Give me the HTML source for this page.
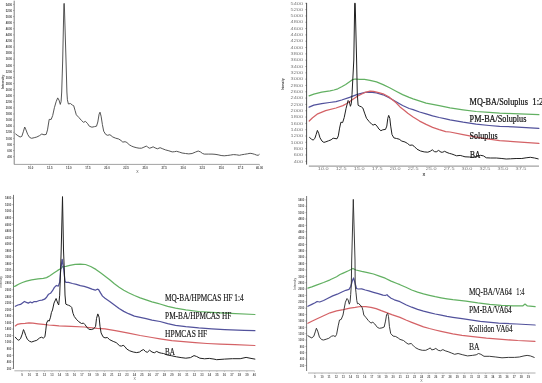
<!DOCTYPE html>
<html><head><meta charset="utf-8"><style>
html,body{margin:0;padding:0;background:#fff;}
body{width:542px;height:383px;overflow:hidden;}
svg{display:block;filter:blur(0.3px);}
.t{font-family:"Liberation Sans",sans-serif;}
.s{font-family:"Liberation Serif",serif;fill:#111;stroke:#111;stroke-width:0.22px;}
</style></head><body>
<svg width="542" height="383" viewBox="0 0 542 383">
<rect width="542" height="383" fill="#fff"/>
<line x1="14.2" y1="0.7" x2="14.2" y2="164.4" stroke="#6a6a6a" stroke-width="0.85"/>
<line x1="13.0" y1="4.40" x2="14.2" y2="4.40" stroke="#6a6a6a" stroke-width="0.5"/>
<text transform="translate(12.00 5.60) scale(0.8 1)" text-anchor="end" class="t" style="fill:#4a4a4a;font-weight:bold;font-size:3.5px">5400</text>
<line x1="13.0" y1="10.49" x2="14.2" y2="10.49" stroke="#6a6a6a" stroke-width="0.5"/>
<text transform="translate(12.00 11.69) scale(0.8 1)" text-anchor="end" class="t" style="fill:#4a4a4a;font-weight:bold;font-size:3.5px">5200</text>
<line x1="13.0" y1="16.58" x2="14.2" y2="16.58" stroke="#6a6a6a" stroke-width="0.5"/>
<text transform="translate(12.00 17.78) scale(0.8 1)" text-anchor="end" class="t" style="fill:#4a4a4a;font-weight:bold;font-size:3.5px">5000</text>
<line x1="13.0" y1="22.67" x2="14.2" y2="22.67" stroke="#6a6a6a" stroke-width="0.5"/>
<text transform="translate(12.00 23.87) scale(0.8 1)" text-anchor="end" class="t" style="fill:#4a4a4a;font-weight:bold;font-size:3.5px">4800</text>
<line x1="13.0" y1="28.76" x2="14.2" y2="28.76" stroke="#6a6a6a" stroke-width="0.5"/>
<text transform="translate(12.00 29.96) scale(0.8 1)" text-anchor="end" class="t" style="fill:#4a4a4a;font-weight:bold;font-size:3.5px">4600</text>
<line x1="13.0" y1="34.85" x2="14.2" y2="34.85" stroke="#6a6a6a" stroke-width="0.5"/>
<text transform="translate(12.00 36.05) scale(0.8 1)" text-anchor="end" class="t" style="fill:#4a4a4a;font-weight:bold;font-size:3.5px">4400</text>
<line x1="13.0" y1="40.94" x2="14.2" y2="40.94" stroke="#6a6a6a" stroke-width="0.5"/>
<text transform="translate(12.00 42.14) scale(0.8 1)" text-anchor="end" class="t" style="fill:#4a4a4a;font-weight:bold;font-size:3.5px">4200</text>
<line x1="13.0" y1="47.03" x2="14.2" y2="47.03" stroke="#6a6a6a" stroke-width="0.5"/>
<text transform="translate(12.00 48.23) scale(0.8 1)" text-anchor="end" class="t" style="fill:#4a4a4a;font-weight:bold;font-size:3.5px">4000</text>
<line x1="13.0" y1="53.12" x2="14.2" y2="53.12" stroke="#6a6a6a" stroke-width="0.5"/>
<text transform="translate(12.00 54.32) scale(0.8 1)" text-anchor="end" class="t" style="fill:#4a4a4a;font-weight:bold;font-size:3.5px">3800</text>
<line x1="13.0" y1="59.21" x2="14.2" y2="59.21" stroke="#6a6a6a" stroke-width="0.5"/>
<text transform="translate(12.00 60.41) scale(0.8 1)" text-anchor="end" class="t" style="fill:#4a4a4a;font-weight:bold;font-size:3.5px">3600</text>
<line x1="13.0" y1="65.30" x2="14.2" y2="65.30" stroke="#6a6a6a" stroke-width="0.5"/>
<text transform="translate(12.00 66.50) scale(0.8 1)" text-anchor="end" class="t" style="fill:#4a4a4a;font-weight:bold;font-size:3.5px">3400</text>
<line x1="13.0" y1="71.39" x2="14.2" y2="71.39" stroke="#6a6a6a" stroke-width="0.5"/>
<text transform="translate(12.00 72.59) scale(0.8 1)" text-anchor="end" class="t" style="fill:#4a4a4a;font-weight:bold;font-size:3.5px">3200</text>
<line x1="13.0" y1="77.48" x2="14.2" y2="77.48" stroke="#6a6a6a" stroke-width="0.5"/>
<text transform="translate(12.00 78.68) scale(0.8 1)" text-anchor="end" class="t" style="fill:#4a4a4a;font-weight:bold;font-size:3.5px">3000</text>
<line x1="13.0" y1="83.57" x2="14.2" y2="83.57" stroke="#6a6a6a" stroke-width="0.5"/>
<text transform="translate(12.00 84.77) scale(0.8 1)" text-anchor="end" class="t" style="fill:#4a4a4a;font-weight:bold;font-size:3.5px">2800</text>
<line x1="13.0" y1="89.66" x2="14.2" y2="89.66" stroke="#6a6a6a" stroke-width="0.5"/>
<text transform="translate(12.00 90.86) scale(0.8 1)" text-anchor="end" class="t" style="fill:#4a4a4a;font-weight:bold;font-size:3.5px">2600</text>
<line x1="13.0" y1="95.75" x2="14.2" y2="95.75" stroke="#6a6a6a" stroke-width="0.5"/>
<text transform="translate(12.00 96.95) scale(0.8 1)" text-anchor="end" class="t" style="fill:#4a4a4a;font-weight:bold;font-size:3.5px">2400</text>
<line x1="13.0" y1="101.84" x2="14.2" y2="101.84" stroke="#6a6a6a" stroke-width="0.5"/>
<text transform="translate(12.00 103.04) scale(0.8 1)" text-anchor="end" class="t" style="fill:#4a4a4a;font-weight:bold;font-size:3.5px">2200</text>
<line x1="13.0" y1="107.93" x2="14.2" y2="107.93" stroke="#6a6a6a" stroke-width="0.5"/>
<text transform="translate(12.00 109.13) scale(0.8 1)" text-anchor="end" class="t" style="fill:#4a4a4a;font-weight:bold;font-size:3.5px">2000</text>
<line x1="13.0" y1="114.02" x2="14.2" y2="114.02" stroke="#6a6a6a" stroke-width="0.5"/>
<text transform="translate(12.00 115.22) scale(0.8 1)" text-anchor="end" class="t" style="fill:#4a4a4a;font-weight:bold;font-size:3.5px">1800</text>
<line x1="13.0" y1="120.11" x2="14.2" y2="120.11" stroke="#6a6a6a" stroke-width="0.5"/>
<text transform="translate(12.00 121.31) scale(0.8 1)" text-anchor="end" class="t" style="fill:#4a4a4a;font-weight:bold;font-size:3.5px">1600</text>
<line x1="13.0" y1="126.20" x2="14.2" y2="126.20" stroke="#6a6a6a" stroke-width="0.5"/>
<text transform="translate(12.00 127.40) scale(0.8 1)" text-anchor="end" class="t" style="fill:#4a4a4a;font-weight:bold;font-size:3.5px">1400</text>
<line x1="13.0" y1="132.29" x2="14.2" y2="132.29" stroke="#6a6a6a" stroke-width="0.5"/>
<text transform="translate(12.00 133.49) scale(0.8 1)" text-anchor="end" class="t" style="fill:#4a4a4a;font-weight:bold;font-size:3.5px">1200</text>
<line x1="13.0" y1="138.38" x2="14.2" y2="138.38" stroke="#6a6a6a" stroke-width="0.5"/>
<text transform="translate(12.00 139.58) scale(0.8 1)" text-anchor="end" class="t" style="fill:#4a4a4a;font-weight:bold;font-size:3.5px">1000</text>
<line x1="13.0" y1="144.47" x2="14.2" y2="144.47" stroke="#6a6a6a" stroke-width="0.5"/>
<text transform="translate(12.00 145.67) scale(0.8 1)" text-anchor="end" class="t" style="fill:#4a4a4a;font-weight:bold;font-size:3.5px">800</text>
<line x1="13.0" y1="150.56" x2="14.2" y2="150.56" stroke="#6a6a6a" stroke-width="0.5"/>
<text transform="translate(12.00 151.76) scale(0.8 1)" text-anchor="end" class="t" style="fill:#4a4a4a;font-weight:bold;font-size:3.5px">600</text>
<line x1="13.0" y1="156.65" x2="14.2" y2="156.65" stroke="#6a6a6a" stroke-width="0.5"/>
<text transform="translate(12.00 157.85) scale(0.8 1)" text-anchor="end" class="t" style="fill:#4a4a4a;font-weight:bold;font-size:3.5px">400</text>
<line x1="14.1" y1="164.4" x2="259.5" y2="164.4" stroke="#8a8a8a" stroke-width="0.8"/>
<line x1="30.70" y1="164.4" x2="30.70" y2="165.6" stroke="#8a8a8a" stroke-width="0.5"/>
<text transform="translate(30.70 168.70) scale(0.8 1)" text-anchor="middle" class="t" style="fill:#4a4a4a;font-weight:bold;font-size:3.5px">10.0</text>
<line x1="49.77" y1="164.4" x2="49.77" y2="165.6" stroke="#8a8a8a" stroke-width="0.5"/>
<text transform="translate(49.77 168.70) scale(0.8 1)" text-anchor="middle" class="t" style="fill:#4a4a4a;font-weight:bold;font-size:3.5px">12.5</text>
<line x1="68.84" y1="164.4" x2="68.84" y2="165.6" stroke="#8a8a8a" stroke-width="0.5"/>
<text transform="translate(68.84 168.70) scale(0.8 1)" text-anchor="middle" class="t" style="fill:#4a4a4a;font-weight:bold;font-size:3.5px">15.0</text>
<line x1="87.91" y1="164.4" x2="87.91" y2="165.6" stroke="#8a8a8a" stroke-width="0.5"/>
<text transform="translate(87.91 168.70) scale(0.8 1)" text-anchor="middle" class="t" style="fill:#4a4a4a;font-weight:bold;font-size:3.5px">17.5</text>
<line x1="106.98" y1="164.4" x2="106.98" y2="165.6" stroke="#8a8a8a" stroke-width="0.5"/>
<text transform="translate(106.98 168.70) scale(0.8 1)" text-anchor="middle" class="t" style="fill:#4a4a4a;font-weight:bold;font-size:3.5px">20.0</text>
<line x1="126.05" y1="164.4" x2="126.05" y2="165.6" stroke="#8a8a8a" stroke-width="0.5"/>
<text transform="translate(126.05 168.70) scale(0.8 1)" text-anchor="middle" class="t" style="fill:#4a4a4a;font-weight:bold;font-size:3.5px">22.5</text>
<line x1="145.12" y1="164.4" x2="145.12" y2="165.6" stroke="#8a8a8a" stroke-width="0.5"/>
<text transform="translate(145.12 168.70) scale(0.8 1)" text-anchor="middle" class="t" style="fill:#4a4a4a;font-weight:bold;font-size:3.5px">25.0</text>
<line x1="164.19" y1="164.4" x2="164.19" y2="165.6" stroke="#8a8a8a" stroke-width="0.5"/>
<text transform="translate(164.19 168.70) scale(0.8 1)" text-anchor="middle" class="t" style="fill:#4a4a4a;font-weight:bold;font-size:3.5px">27.5</text>
<line x1="183.26" y1="164.4" x2="183.26" y2="165.6" stroke="#8a8a8a" stroke-width="0.5"/>
<text transform="translate(183.26 168.70) scale(0.8 1)" text-anchor="middle" class="t" style="fill:#4a4a4a;font-weight:bold;font-size:3.5px">30.0</text>
<line x1="202.33" y1="164.4" x2="202.33" y2="165.6" stroke="#8a8a8a" stroke-width="0.5"/>
<text transform="translate(202.33 168.70) scale(0.8 1)" text-anchor="middle" class="t" style="fill:#4a4a4a;font-weight:bold;font-size:3.5px">32.5</text>
<line x1="221.40" y1="164.4" x2="221.40" y2="165.6" stroke="#8a8a8a" stroke-width="0.5"/>
<text transform="translate(221.40 168.70) scale(0.8 1)" text-anchor="middle" class="t" style="fill:#4a4a4a;font-weight:bold;font-size:3.5px">35.0</text>
<line x1="240.47" y1="164.4" x2="240.47" y2="165.6" stroke="#8a8a8a" stroke-width="0.5"/>
<text transform="translate(240.47 168.70) scale(0.8 1)" text-anchor="middle" class="t" style="fill:#4a4a4a;font-weight:bold;font-size:3.5px">37.5</text>
<line x1="259.50" y1="164.4" x2="259.50" y2="165.6" stroke="#8a8a8a" stroke-width="0.5"/>
<text transform="translate(259.50 168.70) scale(0.8 1)" text-anchor="middle" class="t" style="fill:#4a4a4a;font-weight:bold;font-size:3.5px">40.00</text>
<text transform="translate(3.6 82) rotate(-90) scale(1.0 1)" text-anchor="middle" class="t" style="fill:#4a4a4a;font-size:3.5px;font-weight:bold">Intensity</text>
<text x="137.5" y="172.5" text-anchor="middle" class="t" style="fill:#4a4a4a;font-size:3.5px;font-weight:normal">X</text>
<polyline points="15.7,134.0 17.9,135.7 20.1,137.0 21.8,136.4 23.5,131.2 24.7,127.0 25.7,129.2 27.7,134.4 29.6,137.4 31.6,138.3 34.2,137.7 36.8,137.0 39.4,135.7 41.8,134.0 44.0,134.8 46.2,134.4 47.5,129.9 49.2,119.4 51.2,119.4 52.7,115.5 54.4,107.7 56.1,101.8 57.7,97.9 59.0,100.1 60.3,104.4 61.1,101.5 61.7,92.0 62.7,60.0 63.9,3.5 64.3,3.5 66.0,60.0 66.9,92.0 67.4,99.8 68.4,104.0 70.4,103.5 72.4,105.1 73.7,105.7 75.0,110.3 76.3,114.8 78.9,117.5 81.5,120.5 83.5,122.3 85.4,121.4 87.4,123.3 89.3,126.2 91.9,127.2 94.6,126.6 96.5,126.2 97.8,122.0 99.1,114.2 100.0,112.2 101.1,116.2 102.4,124.6 103.7,131.2 105.7,134.4 107.6,135.3 109.9,134.7 112.8,137.0 115.7,138.2 118.7,139.0 121.0,140.5 122.8,142.1 125.1,141.7 126.9,142.5 129.2,144.7 131.6,146.1 133.9,147.0 136.9,147.8 139.2,148.2 141.6,148.2 143.9,147.2 146.3,146.1 147.7,147.0 149.2,148.2 151.0,147.8 153.1,146.8 155.1,147.9 157.4,148.8 160.1,147.7 162.2,148.6 165.5,149.9 168.9,150.8 172.2,151.9 174.4,151.7 176.6,151.3 179.4,152.1 182.1,153.0 185.5,153.5 188.8,153.9 192.1,153.5 195.4,152.1 198.2,151.0 200.4,151.9 202.6,153.5 204.3,154.1 208.7,154.1 212.0,154.1 215.0,154.3 218.1,154.8 221.1,155.5 224.2,155.8 227.2,155.5 230.3,155.1 233.3,154.6 236.4,154.8 239.4,155.3 241.4,154.8 244.5,154.3 247.5,153.8 250.1,153.3 252.1,153.6 254.6,154.3 256.6,155.1 258.2,155.3 259.2,154.5" fill="none" stroke="#4c4c4c" stroke-width="0.95" stroke-linejoin="round" stroke-linecap="round" opacity="1.0"/>
<line x1="306.6" y1="2.9" x2="306.6" y2="164.6" stroke="#3a3a3a" stroke-width="0.9"/>
<line x1="305.40000000000003" y1="3.30" x2="306.6" y2="3.30" stroke="#3a3a3a" stroke-width="0.5"/>
<text transform="translate(303.00 4.50) scale(1.6 1)" text-anchor="end" class="t" style="fill:#7a7a7a;font-weight:normal;font-size:3.5px">5400</text>
<line x1="305.40000000000003" y1="9.62" x2="306.6" y2="9.62" stroke="#3a3a3a" stroke-width="0.5"/>
<text transform="translate(303.00 10.82) scale(1.6 1)" text-anchor="end" class="t" style="fill:#7a7a7a;font-weight:normal;font-size:3.5px">5200</text>
<line x1="305.40000000000003" y1="15.94" x2="306.6" y2="15.94" stroke="#3a3a3a" stroke-width="0.5"/>
<text transform="translate(303.00 17.14) scale(1.6 1)" text-anchor="end" class="t" style="fill:#7a7a7a;font-weight:normal;font-size:3.5px">5000</text>
<line x1="305.40000000000003" y1="22.26" x2="306.6" y2="22.26" stroke="#3a3a3a" stroke-width="0.5"/>
<text transform="translate(303.00 23.46) scale(1.6 1)" text-anchor="end" class="t" style="fill:#7a7a7a;font-weight:normal;font-size:3.5px">4800</text>
<line x1="305.40000000000003" y1="28.58" x2="306.6" y2="28.58" stroke="#3a3a3a" stroke-width="0.5"/>
<text transform="translate(303.00 29.78) scale(1.6 1)" text-anchor="end" class="t" style="fill:#7a7a7a;font-weight:normal;font-size:3.5px">4600</text>
<line x1="305.40000000000003" y1="34.90" x2="306.6" y2="34.90" stroke="#3a3a3a" stroke-width="0.5"/>
<text transform="translate(303.00 36.10) scale(1.6 1)" text-anchor="end" class="t" style="fill:#7a7a7a;font-weight:normal;font-size:3.5px">4400</text>
<line x1="305.40000000000003" y1="41.22" x2="306.6" y2="41.22" stroke="#3a3a3a" stroke-width="0.5"/>
<text transform="translate(303.00 42.42) scale(1.6 1)" text-anchor="end" class="t" style="fill:#7a7a7a;font-weight:normal;font-size:3.5px">4200</text>
<line x1="305.40000000000003" y1="47.54" x2="306.6" y2="47.54" stroke="#3a3a3a" stroke-width="0.5"/>
<text transform="translate(303.00 48.74) scale(1.6 1)" text-anchor="end" class="t" style="fill:#7a7a7a;font-weight:normal;font-size:3.5px">4000</text>
<line x1="305.40000000000003" y1="53.86" x2="306.6" y2="53.86" stroke="#3a3a3a" stroke-width="0.5"/>
<text transform="translate(303.00 55.06) scale(1.6 1)" text-anchor="end" class="t" style="fill:#7a7a7a;font-weight:normal;font-size:3.5px">3800</text>
<line x1="305.40000000000003" y1="60.18" x2="306.6" y2="60.18" stroke="#3a3a3a" stroke-width="0.5"/>
<text transform="translate(303.00 61.38) scale(1.6 1)" text-anchor="end" class="t" style="fill:#7a7a7a;font-weight:normal;font-size:3.5px">3600</text>
<line x1="305.40000000000003" y1="66.50" x2="306.6" y2="66.50" stroke="#3a3a3a" stroke-width="0.5"/>
<text transform="translate(303.00 67.70) scale(1.6 1)" text-anchor="end" class="t" style="fill:#7a7a7a;font-weight:normal;font-size:3.5px">3400</text>
<line x1="305.40000000000003" y1="72.82" x2="306.6" y2="72.82" stroke="#3a3a3a" stroke-width="0.5"/>
<text transform="translate(303.00 74.02) scale(1.6 1)" text-anchor="end" class="t" style="fill:#7a7a7a;font-weight:normal;font-size:3.5px">3200</text>
<line x1="305.40000000000003" y1="79.14" x2="306.6" y2="79.14" stroke="#3a3a3a" stroke-width="0.5"/>
<text transform="translate(303.00 80.34) scale(1.6 1)" text-anchor="end" class="t" style="fill:#7a7a7a;font-weight:normal;font-size:3.5px">3000</text>
<line x1="305.40000000000003" y1="85.46" x2="306.6" y2="85.46" stroke="#3a3a3a" stroke-width="0.5"/>
<text transform="translate(303.00 86.66) scale(1.6 1)" text-anchor="end" class="t" style="fill:#7a7a7a;font-weight:normal;font-size:3.5px">2800</text>
<line x1="305.40000000000003" y1="91.78" x2="306.6" y2="91.78" stroke="#3a3a3a" stroke-width="0.5"/>
<text transform="translate(303.00 92.98) scale(1.6 1)" text-anchor="end" class="t" style="fill:#7a7a7a;font-weight:normal;font-size:3.5px">2600</text>
<line x1="305.40000000000003" y1="98.10" x2="306.6" y2="98.10" stroke="#3a3a3a" stroke-width="0.5"/>
<text transform="translate(303.00 99.30) scale(1.6 1)" text-anchor="end" class="t" style="fill:#7a7a7a;font-weight:normal;font-size:3.5px">2400</text>
<line x1="305.40000000000003" y1="104.42" x2="306.6" y2="104.42" stroke="#3a3a3a" stroke-width="0.5"/>
<text transform="translate(303.00 105.62) scale(1.6 1)" text-anchor="end" class="t" style="fill:#7a7a7a;font-weight:normal;font-size:3.5px">2200</text>
<line x1="305.40000000000003" y1="110.74" x2="306.6" y2="110.74" stroke="#3a3a3a" stroke-width="0.5"/>
<text transform="translate(303.00 111.94) scale(1.6 1)" text-anchor="end" class="t" style="fill:#7a7a7a;font-weight:normal;font-size:3.5px">2000</text>
<line x1="305.40000000000003" y1="117.06" x2="306.6" y2="117.06" stroke="#3a3a3a" stroke-width="0.5"/>
<text transform="translate(303.00 118.26) scale(1.6 1)" text-anchor="end" class="t" style="fill:#7a7a7a;font-weight:normal;font-size:3.5px">1800</text>
<line x1="305.40000000000003" y1="123.38" x2="306.6" y2="123.38" stroke="#3a3a3a" stroke-width="0.5"/>
<text transform="translate(303.00 124.58) scale(1.6 1)" text-anchor="end" class="t" style="fill:#7a7a7a;font-weight:normal;font-size:3.5px">1600</text>
<line x1="305.40000000000003" y1="129.70" x2="306.6" y2="129.70" stroke="#3a3a3a" stroke-width="0.5"/>
<text transform="translate(303.00 130.90) scale(1.6 1)" text-anchor="end" class="t" style="fill:#7a7a7a;font-weight:normal;font-size:3.5px">1400</text>
<line x1="305.40000000000003" y1="136.02" x2="306.6" y2="136.02" stroke="#3a3a3a" stroke-width="0.5"/>
<text transform="translate(303.00 137.22) scale(1.6 1)" text-anchor="end" class="t" style="fill:#7a7a7a;font-weight:normal;font-size:3.5px">1200</text>
<line x1="305.40000000000003" y1="142.34" x2="306.6" y2="142.34" stroke="#3a3a3a" stroke-width="0.5"/>
<text transform="translate(303.00 143.54) scale(1.6 1)" text-anchor="end" class="t" style="fill:#7a7a7a;font-weight:normal;font-size:3.5px">1000</text>
<line x1="305.40000000000003" y1="148.66" x2="306.6" y2="148.66" stroke="#3a3a3a" stroke-width="0.5"/>
<text transform="translate(303.00 149.86) scale(1.6 1)" text-anchor="end" class="t" style="fill:#7a7a7a;font-weight:normal;font-size:3.5px">800</text>
<line x1="305.40000000000003" y1="154.98" x2="306.6" y2="154.98" stroke="#3a3a3a" stroke-width="0.5"/>
<text transform="translate(303.00 156.18) scale(1.6 1)" text-anchor="end" class="t" style="fill:#7a7a7a;font-weight:normal;font-size:3.5px">600</text>
<line x1="305.40000000000003" y1="161.30" x2="306.6" y2="161.30" stroke="#3a3a3a" stroke-width="0.5"/>
<text transform="translate(303.00 162.50) scale(1.6 1)" text-anchor="end" class="t" style="fill:#7a7a7a;font-weight:normal;font-size:3.5px">400</text>
<line x1="308.8" y1="166.1" x2="539.0" y2="166.1" stroke="#8a8a8a" stroke-width="1.0"/>
<line x1="323.20" y1="166.1" x2="323.20" y2="167.29999999999998" stroke="#8a8a8a" stroke-width="0.5"/>
<text transform="translate(323.20 170.20) scale(1.6 1)" text-anchor="middle" class="t" style="fill:#7a7a7a;font-weight:normal;font-size:3.5px">10.0</text>
<line x1="341.18" y1="166.1" x2="341.18" y2="167.29999999999998" stroke="#8a8a8a" stroke-width="0.5"/>
<text transform="translate(341.18 170.20) scale(1.6 1)" text-anchor="middle" class="t" style="fill:#7a7a7a;font-weight:normal;font-size:3.5px">12.5</text>
<line x1="359.16" y1="166.1" x2="359.16" y2="167.29999999999998" stroke="#8a8a8a" stroke-width="0.5"/>
<text transform="translate(359.16 170.20) scale(1.6 1)" text-anchor="middle" class="t" style="fill:#7a7a7a;font-weight:normal;font-size:3.5px">15.0</text>
<line x1="377.14" y1="166.1" x2="377.14" y2="167.29999999999998" stroke="#8a8a8a" stroke-width="0.5"/>
<text transform="translate(377.14 170.20) scale(1.6 1)" text-anchor="middle" class="t" style="fill:#7a7a7a;font-weight:normal;font-size:3.5px">17.5</text>
<line x1="395.12" y1="166.1" x2="395.12" y2="167.29999999999998" stroke="#8a8a8a" stroke-width="0.5"/>
<text transform="translate(395.12 170.20) scale(1.6 1)" text-anchor="middle" class="t" style="fill:#7a7a7a;font-weight:normal;font-size:3.5px">20.0</text>
<line x1="413.10" y1="166.1" x2="413.10" y2="167.29999999999998" stroke="#8a8a8a" stroke-width="0.5"/>
<text transform="translate(413.10 170.20) scale(1.6 1)" text-anchor="middle" class="t" style="fill:#7a7a7a;font-weight:normal;font-size:3.5px">22.5</text>
<line x1="431.08" y1="166.1" x2="431.08" y2="167.29999999999998" stroke="#8a8a8a" stroke-width="0.5"/>
<text transform="translate(431.08 170.20) scale(1.6 1)" text-anchor="middle" class="t" style="fill:#7a7a7a;font-weight:normal;font-size:3.5px">25.0</text>
<line x1="449.06" y1="166.1" x2="449.06" y2="167.29999999999998" stroke="#8a8a8a" stroke-width="0.5"/>
<text transform="translate(449.06 170.20) scale(1.6 1)" text-anchor="middle" class="t" style="fill:#7a7a7a;font-weight:normal;font-size:3.5px">27.5</text>
<line x1="467.04" y1="166.1" x2="467.04" y2="167.29999999999998" stroke="#8a8a8a" stroke-width="0.5"/>
<text transform="translate(467.04 170.20) scale(1.6 1)" text-anchor="middle" class="t" style="fill:#7a7a7a;font-weight:normal;font-size:3.5px">30.0</text>
<line x1="485.02" y1="166.1" x2="485.02" y2="167.29999999999998" stroke="#8a8a8a" stroke-width="0.5"/>
<text transform="translate(485.02 170.20) scale(1.6 1)" text-anchor="middle" class="t" style="fill:#7a7a7a;font-weight:normal;font-size:3.5px">32.5</text>
<line x1="503.00" y1="166.1" x2="503.00" y2="167.29999999999998" stroke="#8a8a8a" stroke-width="0.5"/>
<text transform="translate(503.00 170.20) scale(1.6 1)" text-anchor="middle" class="t" style="fill:#7a7a7a;font-weight:normal;font-size:3.5px">35.0</text>
<line x1="520.98" y1="166.1" x2="520.98" y2="167.29999999999998" stroke="#8a8a8a" stroke-width="0.5"/>
<text transform="translate(520.98 170.20) scale(1.6 1)" text-anchor="middle" class="t" style="fill:#7a7a7a;font-weight:normal;font-size:3.5px">37.5</text>
<text transform="translate(284.4 84.2) rotate(-90) scale(0.62 1)" text-anchor="middle" class="t" style="fill:#333;font-size:4.4px;font-weight:bold">Intensity</text>
<text x="423.8" y="175.6" text-anchor="middle" class="t" style="fill:#333;font-size:4.2px;font-weight:bold">X</text>
<polyline points="309.1,95.8 313.8,94.1 321.7,92.1 330.0,90.8 333.9,90.0 337.8,88.8 341.7,86.8 345.7,84.5 349.6,81.7 352.7,79.6 355.1,79.0 359.8,79.4 364.5,79.4 370.0,80.3 376.5,81.9 383.1,84.6 389.6,87.8 396.1,91.2 402.6,94.6 409.2,97.4 413.1,98.9 426.1,103.1 439.2,105.7 450.0,107.8 463.1,109.8 476.1,111.5 489.2,112.4 499.6,113.1 513.3,113.6 538.9,114.7" fill="none" stroke="#62b062" stroke-width="1.25" stroke-linejoin="round" stroke-linecap="round" opacity="1.0"/>
<polyline points="309.1,107.2 313.8,105.2 321.7,103.7 329.5,102.5 336.0,101.7 341.7,100.0 349.6,97.4 357.4,94.3 365.2,92.3 370.0,92.1 376.5,92.9 383.1,94.8 389.6,98.0 396.1,101.7 402.6,105.5 409.2,108.5 413.1,109.6 419.6,112.0 426.1,113.9 432.6,115.9 439.2,117.5 445.7,118.9 450.0,119.8 463.1,122.2 476.1,124.2 489.2,125.5 499.6,126.4 513.3,126.8 538.9,128.3" fill="none" stroke="#52529c" stroke-width="1.25" stroke-linejoin="round" stroke-linecap="round" opacity="1.0"/>
<polyline points="309.2,121.0 312.3,118.0 317.7,113.8 325.6,110.7 336.0,108.0 342.9,105.6 346.8,103.5 351.9,100.0 357.4,96.2 365.2,92.3 370.0,91.2 373.5,91.3 378.7,92.6 383.1,93.8 389.6,97.4 396.1,102.8 400.0,106.9 403.9,110.0 407.8,113.3 413.1,116.9 419.6,121.1 426.1,124.4 432.6,127.4 439.2,129.6 445.7,131.6 450.0,132.0 463.1,134.6 476.1,137.2 489.2,139.2 499.6,140.6 513.3,141.6 538.9,143.4" fill="none" stroke="#d46266" stroke-width="1.25" stroke-linejoin="round" stroke-linecap="round" opacity="1.0"/>
<polyline points="309.6,137.5 311.5,139.2 313.1,140.1 314.8,138.5 316.1,134.6 317.4,130.4 318.7,133.3 320.0,137.8 322.0,141.1 323.9,142.4 325.9,141.8 328.5,140.8 331.1,139.8 333.1,138.2 335.0,138.5 337.0,138.8 338.3,135.9 339.6,128.1 340.9,122.2 342.6,122.6 344.2,117.6 346.1,108.3 348.1,100.5 349.4,101.8 350.4,106.3 351.3,103.7 352.0,94.6 353.8,60.0 354.7,3.2 355.2,3.2 356.6,60.0 357.3,94.0 358.1,105.2 359.1,105.9 361.3,106.8 362.9,108.1 364.6,113.1 366.5,118.3 369.1,121.5 371.7,124.2 373.1,125.1 375.0,124.2 377.0,126.1 378.9,129.0 380.9,130.7 382.8,129.8 385.5,129.4 386.8,126.1 387.8,118.3 388.7,115.4 389.8,118.3 390.7,126.1 392.0,134.6 393.9,137.9 396.6,138.5 399.2,139.2 401.8,141.1 405.0,142.0 407.4,143.4 409.8,145.3 412.2,145.0 414.0,146.2 417.0,149.2 420.6,151.0 424.2,151.9 427.8,152.2 430.2,151.3 432.3,149.8 434.4,151.6 436.2,151.9 438.6,150.4 441.0,152.2 442.8,152.2 444.6,151.3 447.0,152.5 449.4,153.4 451.8,154.0 454.2,154.9 456.6,155.8 460.2,155.4 462.6,156.1 465.0,156.8 469.3,157.0 473.5,157.3 477.8,156.3 480.6,155.3 483.5,155.9 486.3,157.8 490.6,158.0 496.3,158.0 501.9,158.5 506.2,159.0 510.5,158.8 516.1,158.5 521.8,158.5 526.1,157.8 530.3,157.3 534.6,158.0 538.2,158.9" fill="none" stroke="#202020" stroke-width="1.0" stroke-linejoin="round" stroke-linecap="round" opacity="1.0"/>
<line x1="13.5" y1="194.9" x2="13.5" y2="368.9" stroke="#555" stroke-width="0.8"/>
<line x1="12.3" y1="198.10" x2="13.5" y2="198.10" stroke="#555" stroke-width="0.5"/>
<text transform="translate(11.30 199.30) scale(0.8 1)" text-anchor="end" class="t" style="fill:#555;font-weight:bold;font-size:3.5px">5400</text>
<line x1="12.3" y1="204.65" x2="13.5" y2="204.65" stroke="#555" stroke-width="0.5"/>
<text transform="translate(11.30 205.85) scale(0.8 1)" text-anchor="end" class="t" style="fill:#555;font-weight:bold;font-size:3.5px">5200</text>
<line x1="12.3" y1="211.20" x2="13.5" y2="211.20" stroke="#555" stroke-width="0.5"/>
<text transform="translate(11.30 212.40) scale(0.8 1)" text-anchor="end" class="t" style="fill:#555;font-weight:bold;font-size:3.5px">5000</text>
<line x1="12.3" y1="217.75" x2="13.5" y2="217.75" stroke="#555" stroke-width="0.5"/>
<text transform="translate(11.30 218.95) scale(0.8 1)" text-anchor="end" class="t" style="fill:#555;font-weight:bold;font-size:3.5px">4800</text>
<line x1="12.3" y1="224.30" x2="13.5" y2="224.30" stroke="#555" stroke-width="0.5"/>
<text transform="translate(11.30 225.50) scale(0.8 1)" text-anchor="end" class="t" style="fill:#555;font-weight:bold;font-size:3.5px">4600</text>
<line x1="12.3" y1="230.85" x2="13.5" y2="230.85" stroke="#555" stroke-width="0.5"/>
<text transform="translate(11.30 232.05) scale(0.8 1)" text-anchor="end" class="t" style="fill:#555;font-weight:bold;font-size:3.5px">4400</text>
<line x1="12.3" y1="237.40" x2="13.5" y2="237.40" stroke="#555" stroke-width="0.5"/>
<text transform="translate(11.30 238.60) scale(0.8 1)" text-anchor="end" class="t" style="fill:#555;font-weight:bold;font-size:3.5px">4200</text>
<line x1="12.3" y1="243.95" x2="13.5" y2="243.95" stroke="#555" stroke-width="0.5"/>
<text transform="translate(11.30 245.15) scale(0.8 1)" text-anchor="end" class="t" style="fill:#555;font-weight:bold;font-size:3.5px">4000</text>
<line x1="12.3" y1="250.50" x2="13.5" y2="250.50" stroke="#555" stroke-width="0.5"/>
<text transform="translate(11.30 251.70) scale(0.8 1)" text-anchor="end" class="t" style="fill:#555;font-weight:bold;font-size:3.5px">3800</text>
<line x1="12.3" y1="257.05" x2="13.5" y2="257.05" stroke="#555" stroke-width="0.5"/>
<text transform="translate(11.30 258.25) scale(0.8 1)" text-anchor="end" class="t" style="fill:#555;font-weight:bold;font-size:3.5px">3600</text>
<line x1="12.3" y1="263.60" x2="13.5" y2="263.60" stroke="#555" stroke-width="0.5"/>
<text transform="translate(11.30 264.80) scale(0.8 1)" text-anchor="end" class="t" style="fill:#555;font-weight:bold;font-size:3.5px">3400</text>
<line x1="12.3" y1="270.15" x2="13.5" y2="270.15" stroke="#555" stroke-width="0.5"/>
<text transform="translate(11.30 271.35) scale(0.8 1)" text-anchor="end" class="t" style="fill:#555;font-weight:bold;font-size:3.5px">3200</text>
<line x1="12.3" y1="276.70" x2="13.5" y2="276.70" stroke="#555" stroke-width="0.5"/>
<text transform="translate(11.30 277.90) scale(0.8 1)" text-anchor="end" class="t" style="fill:#555;font-weight:bold;font-size:3.5px">3000</text>
<line x1="12.3" y1="283.25" x2="13.5" y2="283.25" stroke="#555" stroke-width="0.5"/>
<text transform="translate(11.30 284.45) scale(0.8 1)" text-anchor="end" class="t" style="fill:#555;font-weight:bold;font-size:3.5px">2800</text>
<line x1="12.3" y1="289.80" x2="13.5" y2="289.80" stroke="#555" stroke-width="0.5"/>
<text transform="translate(11.30 291.00) scale(0.8 1)" text-anchor="end" class="t" style="fill:#555;font-weight:bold;font-size:3.5px">2600</text>
<line x1="12.3" y1="296.35" x2="13.5" y2="296.35" stroke="#555" stroke-width="0.5"/>
<text transform="translate(11.30 297.55) scale(0.8 1)" text-anchor="end" class="t" style="fill:#555;font-weight:bold;font-size:3.5px">2400</text>
<line x1="12.3" y1="302.90" x2="13.5" y2="302.90" stroke="#555" stroke-width="0.5"/>
<text transform="translate(11.30 304.10) scale(0.8 1)" text-anchor="end" class="t" style="fill:#555;font-weight:bold;font-size:3.5px">2200</text>
<line x1="12.3" y1="309.45" x2="13.5" y2="309.45" stroke="#555" stroke-width="0.5"/>
<text transform="translate(11.30 310.65) scale(0.8 1)" text-anchor="end" class="t" style="fill:#555;font-weight:bold;font-size:3.5px">2000</text>
<line x1="12.3" y1="316.00" x2="13.5" y2="316.00" stroke="#555" stroke-width="0.5"/>
<text transform="translate(11.30 317.20) scale(0.8 1)" text-anchor="end" class="t" style="fill:#555;font-weight:bold;font-size:3.5px">1800</text>
<line x1="12.3" y1="322.55" x2="13.5" y2="322.55" stroke="#555" stroke-width="0.5"/>
<text transform="translate(11.30 323.75) scale(0.8 1)" text-anchor="end" class="t" style="fill:#555;font-weight:bold;font-size:3.5px">1600</text>
<line x1="12.3" y1="329.10" x2="13.5" y2="329.10" stroke="#555" stroke-width="0.5"/>
<text transform="translate(11.30 330.30) scale(0.8 1)" text-anchor="end" class="t" style="fill:#555;font-weight:bold;font-size:3.5px">1400</text>
<line x1="12.3" y1="335.65" x2="13.5" y2="335.65" stroke="#555" stroke-width="0.5"/>
<text transform="translate(11.30 336.85) scale(0.8 1)" text-anchor="end" class="t" style="fill:#555;font-weight:bold;font-size:3.5px">1200</text>
<line x1="12.3" y1="342.20" x2="13.5" y2="342.20" stroke="#555" stroke-width="0.5"/>
<text transform="translate(11.30 343.40) scale(0.8 1)" text-anchor="end" class="t" style="fill:#555;font-weight:bold;font-size:3.5px">1000</text>
<line x1="12.3" y1="348.75" x2="13.5" y2="348.75" stroke="#555" stroke-width="0.5"/>
<text transform="translate(11.30 349.95) scale(0.8 1)" text-anchor="end" class="t" style="fill:#555;font-weight:bold;font-size:3.5px">800</text>
<line x1="12.3" y1="355.30" x2="13.5" y2="355.30" stroke="#555" stroke-width="0.5"/>
<text transform="translate(11.30 356.50) scale(0.8 1)" text-anchor="end" class="t" style="fill:#555;font-weight:bold;font-size:3.5px">600</text>
<line x1="12.3" y1="361.85" x2="13.5" y2="361.85" stroke="#555" stroke-width="0.5"/>
<text transform="translate(11.30 363.05) scale(0.8 1)" text-anchor="end" class="t" style="fill:#555;font-weight:bold;font-size:3.5px">400</text>
<line x1="12.3" y1="368.40" x2="13.5" y2="368.40" stroke="#555" stroke-width="0.5"/>
<text transform="translate(11.30 369.60) scale(0.8 1)" text-anchor="end" class="t" style="fill:#555;font-weight:bold;font-size:3.5px">200</text>
<line x1="14.4" y1="370.8" x2="254.5" y2="370.8" stroke="#9a9a9a" stroke-width="0.8"/>
<line x1="21.90" y1="370.8" x2="21.90" y2="372.0" stroke="#9a9a9a" stroke-width="0.5"/>
<text transform="translate(21.90 375.50) scale(0.8 1)" text-anchor="middle" class="t" style="fill:#555;font-weight:bold;font-size:3.5px">9</text>
<line x1="29.40" y1="370.8" x2="29.40" y2="372.0" stroke="#9a9a9a" stroke-width="0.5"/>
<text transform="translate(29.40 375.50) scale(0.8 1)" text-anchor="middle" class="t" style="fill:#555;font-weight:bold;font-size:3.5px">10</text>
<line x1="36.90" y1="370.8" x2="36.90" y2="372.0" stroke="#9a9a9a" stroke-width="0.5"/>
<text transform="translate(36.90 375.50) scale(0.8 1)" text-anchor="middle" class="t" style="fill:#555;font-weight:bold;font-size:3.5px">11</text>
<line x1="44.40" y1="370.8" x2="44.40" y2="372.0" stroke="#9a9a9a" stroke-width="0.5"/>
<text transform="translate(44.40 375.50) scale(0.8 1)" text-anchor="middle" class="t" style="fill:#555;font-weight:bold;font-size:3.5px">12</text>
<line x1="51.90" y1="370.8" x2="51.90" y2="372.0" stroke="#9a9a9a" stroke-width="0.5"/>
<text transform="translate(51.90 375.50) scale(0.8 1)" text-anchor="middle" class="t" style="fill:#555;font-weight:bold;font-size:3.5px">13</text>
<line x1="59.40" y1="370.8" x2="59.40" y2="372.0" stroke="#9a9a9a" stroke-width="0.5"/>
<text transform="translate(59.40 375.50) scale(0.8 1)" text-anchor="middle" class="t" style="fill:#555;font-weight:bold;font-size:3.5px">14</text>
<line x1="66.90" y1="370.8" x2="66.90" y2="372.0" stroke="#9a9a9a" stroke-width="0.5"/>
<text transform="translate(66.90 375.50) scale(0.8 1)" text-anchor="middle" class="t" style="fill:#555;font-weight:bold;font-size:3.5px">15</text>
<line x1="74.40" y1="370.8" x2="74.40" y2="372.0" stroke="#9a9a9a" stroke-width="0.5"/>
<text transform="translate(74.40 375.50) scale(0.8 1)" text-anchor="middle" class="t" style="fill:#555;font-weight:bold;font-size:3.5px">16</text>
<line x1="81.90" y1="370.8" x2="81.90" y2="372.0" stroke="#9a9a9a" stroke-width="0.5"/>
<text transform="translate(81.90 375.50) scale(0.8 1)" text-anchor="middle" class="t" style="fill:#555;font-weight:bold;font-size:3.5px">17</text>
<line x1="89.40" y1="370.8" x2="89.40" y2="372.0" stroke="#9a9a9a" stroke-width="0.5"/>
<text transform="translate(89.40 375.50) scale(0.8 1)" text-anchor="middle" class="t" style="fill:#555;font-weight:bold;font-size:3.5px">18</text>
<line x1="96.90" y1="370.8" x2="96.90" y2="372.0" stroke="#9a9a9a" stroke-width="0.5"/>
<text transform="translate(96.90 375.50) scale(0.8 1)" text-anchor="middle" class="t" style="fill:#555;font-weight:bold;font-size:3.5px">19</text>
<line x1="104.40" y1="370.8" x2="104.40" y2="372.0" stroke="#9a9a9a" stroke-width="0.5"/>
<text transform="translate(104.40 375.50) scale(0.8 1)" text-anchor="middle" class="t" style="fill:#555;font-weight:bold;font-size:3.5px">20</text>
<line x1="111.90" y1="370.8" x2="111.90" y2="372.0" stroke="#9a9a9a" stroke-width="0.5"/>
<text transform="translate(111.90 375.50) scale(0.8 1)" text-anchor="middle" class="t" style="fill:#555;font-weight:bold;font-size:3.5px">21</text>
<line x1="119.40" y1="370.8" x2="119.40" y2="372.0" stroke="#9a9a9a" stroke-width="0.5"/>
<text transform="translate(119.40 375.50) scale(0.8 1)" text-anchor="middle" class="t" style="fill:#555;font-weight:bold;font-size:3.5px">22</text>
<line x1="126.90" y1="370.8" x2="126.90" y2="372.0" stroke="#9a9a9a" stroke-width="0.5"/>
<text transform="translate(126.90 375.50) scale(0.8 1)" text-anchor="middle" class="t" style="fill:#555;font-weight:bold;font-size:3.5px">23</text>
<line x1="134.40" y1="370.8" x2="134.40" y2="372.0" stroke="#9a9a9a" stroke-width="0.5"/>
<text transform="translate(134.40 375.50) scale(0.8 1)" text-anchor="middle" class="t" style="fill:#555;font-weight:bold;font-size:3.5px">24</text>
<line x1="141.90" y1="370.8" x2="141.90" y2="372.0" stroke="#9a9a9a" stroke-width="0.5"/>
<text transform="translate(141.90 375.50) scale(0.8 1)" text-anchor="middle" class="t" style="fill:#555;font-weight:bold;font-size:3.5px">25</text>
<line x1="149.40" y1="370.8" x2="149.40" y2="372.0" stroke="#9a9a9a" stroke-width="0.5"/>
<text transform="translate(149.40 375.50) scale(0.8 1)" text-anchor="middle" class="t" style="fill:#555;font-weight:bold;font-size:3.5px">26</text>
<line x1="156.90" y1="370.8" x2="156.90" y2="372.0" stroke="#9a9a9a" stroke-width="0.5"/>
<text transform="translate(156.90 375.50) scale(0.8 1)" text-anchor="middle" class="t" style="fill:#555;font-weight:bold;font-size:3.5px">27</text>
<line x1="164.40" y1="370.8" x2="164.40" y2="372.0" stroke="#9a9a9a" stroke-width="0.5"/>
<text transform="translate(164.40 375.50) scale(0.8 1)" text-anchor="middle" class="t" style="fill:#555;font-weight:bold;font-size:3.5px">28</text>
<line x1="171.90" y1="370.8" x2="171.90" y2="372.0" stroke="#9a9a9a" stroke-width="0.5"/>
<text transform="translate(171.90 375.50) scale(0.8 1)" text-anchor="middle" class="t" style="fill:#555;font-weight:bold;font-size:3.5px">29</text>
<line x1="179.40" y1="370.8" x2="179.40" y2="372.0" stroke="#9a9a9a" stroke-width="0.5"/>
<text transform="translate(179.40 375.50) scale(0.8 1)" text-anchor="middle" class="t" style="fill:#555;font-weight:bold;font-size:3.5px">30</text>
<line x1="186.90" y1="370.8" x2="186.90" y2="372.0" stroke="#9a9a9a" stroke-width="0.5"/>
<text transform="translate(186.90 375.50) scale(0.8 1)" text-anchor="middle" class="t" style="fill:#555;font-weight:bold;font-size:3.5px">31</text>
<line x1="194.40" y1="370.8" x2="194.40" y2="372.0" stroke="#9a9a9a" stroke-width="0.5"/>
<text transform="translate(194.40 375.50) scale(0.8 1)" text-anchor="middle" class="t" style="fill:#555;font-weight:bold;font-size:3.5px">32</text>
<line x1="201.90" y1="370.8" x2="201.90" y2="372.0" stroke="#9a9a9a" stroke-width="0.5"/>
<text transform="translate(201.90 375.50) scale(0.8 1)" text-anchor="middle" class="t" style="fill:#555;font-weight:bold;font-size:3.5px">33</text>
<line x1="209.40" y1="370.8" x2="209.40" y2="372.0" stroke="#9a9a9a" stroke-width="0.5"/>
<text transform="translate(209.40 375.50) scale(0.8 1)" text-anchor="middle" class="t" style="fill:#555;font-weight:bold;font-size:3.5px">34</text>
<line x1="216.90" y1="370.8" x2="216.90" y2="372.0" stroke="#9a9a9a" stroke-width="0.5"/>
<text transform="translate(216.90 375.50) scale(0.8 1)" text-anchor="middle" class="t" style="fill:#555;font-weight:bold;font-size:3.5px">35</text>
<line x1="224.40" y1="370.8" x2="224.40" y2="372.0" stroke="#9a9a9a" stroke-width="0.5"/>
<text transform="translate(224.40 375.50) scale(0.8 1)" text-anchor="middle" class="t" style="fill:#555;font-weight:bold;font-size:3.5px">36</text>
<line x1="231.90" y1="370.8" x2="231.90" y2="372.0" stroke="#9a9a9a" stroke-width="0.5"/>
<text transform="translate(231.90 375.50) scale(0.8 1)" text-anchor="middle" class="t" style="fill:#555;font-weight:bold;font-size:3.5px">37</text>
<line x1="239.40" y1="370.8" x2="239.40" y2="372.0" stroke="#9a9a9a" stroke-width="0.5"/>
<text transform="translate(239.40 375.50) scale(0.8 1)" text-anchor="middle" class="t" style="fill:#555;font-weight:bold;font-size:3.5px">38</text>
<line x1="246.90" y1="370.8" x2="246.90" y2="372.0" stroke="#9a9a9a" stroke-width="0.5"/>
<text transform="translate(246.90 375.50) scale(0.8 1)" text-anchor="middle" class="t" style="fill:#555;font-weight:bold;font-size:3.5px">39</text>
<line x1="254.40" y1="370.8" x2="254.40" y2="372.0" stroke="#9a9a9a" stroke-width="0.5"/>
<text transform="translate(254.40 375.50) scale(0.8 1)" text-anchor="middle" class="t" style="fill:#555;font-weight:bold;font-size:3.5px">40</text>
<text transform="translate(2.4 282) rotate(-90) scale(0.9 1)" text-anchor="middle" class="t" style="fill:#444;font-size:3.5px;font-weight:normal">Intensity</text>
<text x="134.7" y="380.2" text-anchor="middle" class="t" style="fill:#666;font-size:3.5px;font-weight:normal">X</text>
<polyline points="13.8,286.5 15.3,286.1 18.5,284.2 22.4,282.5 26.4,281.1 31.6,279.8 38.1,278.9 43.3,278.3 46.6,277.6 49.9,275.7 53.8,273.1 57.7,270.4 61.0,268.5 62.5,266.6 65.9,266.3 69.8,265.4 75.1,264.4 80.3,264.1 85.5,264.5 90.7,266.5 95.9,269.4 101.2,273.3 106.4,277.2 109.7,279.7 114.4,283.8 119.1,287.3 123.8,290.3 128.5,292.8 134.4,295.5 140.2,297.9 146.1,299.9 152.0,301.8 157.8,303.4 160.0,304.0 167.7,306.4 175.5,308.2 185.8,309.9 198.7,311.5 211.7,312.4 224.6,313.1 230.5,313.3 254.9,314.5" fill="none" stroke="#62b062" stroke-width="1.25" stroke-linejoin="round" stroke-linecap="round" opacity="1.0"/>
<polyline points="15.3,306.3 17.9,305.0 20.5,304.4 23.1,302.4 24.4,301.5 26.4,302.4 28.3,303.1 30.3,302.0 32.2,302.8 34.2,301.5 36.8,301.5 39.4,300.5 42.0,300.2 44.6,299.2 46.6,297.2 48.6,294.2 50.5,293.3 52.5,290.7 54.4,287.4 56.4,285.5 58.3,286.1 59.7,282.2 60.6,270.4 62.2,259.4 63.8,270.0 65.0,281.0 65.9,282.4 68.5,282.4 72.4,283.5 76.4,284.4 80.3,285.7 84.2,286.3 88.1,287.6 92.0,289.2 95.3,290.2 97.2,289.2 98.6,289.6 100.5,292.9 102.5,296.1 105.0,298.3 109.7,301.4 114.4,304.9 119.1,308.5 123.8,311.4 128.5,313.7 134.4,316.1 140.2,317.3 146.1,318.7 152.0,320.1 160.0,321.5 167.7,323.7 175.5,325.3 185.8,326.6 198.7,327.9 211.7,328.8 224.6,329.6 244.2,330.4 254.9,330.7" fill="none" stroke="#52529c" stroke-width="1.25" stroke-linejoin="round" stroke-linecap="round" opacity="1.0"/>
<polyline points="15.3,325.9 17.2,324.4 21.1,323.7 25.1,323.3 29.0,322.8 32.9,323.1 38.1,323.8 43.3,324.4 48.6,325.0 53.8,325.4 59.0,325.9 71.1,326.3 84.1,327.0 97.2,328.3 105.0,328.9 116.7,330.9 128.5,333.2 140.2,335.5 152.0,337.5 160.0,338.8 171.7,340.6 183.5,341.7 195.2,342.7 207.0,343.5 220.0,344.1 235.0,344.6 254.9,345.5" fill="none" stroke="#d46266" stroke-width="1.25" stroke-linejoin="round" stroke-linecap="round" opacity="1.0"/>
<polyline points="15.3,337.2 17.2,339.4 18.8,340.3 20.5,338.7 22.2,334.2 23.5,329.6 24.4,331.5 25.7,335.5 27.4,339.4 29.6,341.3 31.6,342.0 34.2,341.1 36.8,340.3 39.4,338.1 41.4,337.2 43.3,338.1 44.9,336.8 45.7,330.9 46.6,323.1 47.9,320.4 49.2,321.1 50.5,317.2 51.4,312.6 52.5,310.0 54.0,303.1 56.1,298.5 57.7,303.1 58.7,305.0 59.7,295.2 60.6,270.0 61.2,250.0 62.5,196.6 63.5,250.0 64.3,270.0 65.0,295.0 65.8,304.1 67.1,304.8 68.4,305.2 70.4,306.1 71.7,307.4 73.0,313.3 74.3,316.5 76.3,319.2 78.9,321.8 81.5,323.5 83.5,323.1 84.8,324.4 86.7,327.0 88.7,329.2 91.3,329.6 93.9,328.7 95.6,326.3 96.5,318.5 97.8,313.9 99.1,317.2 100.0,326.3 101.1,332.9 103.0,336.8 105.0,337.9 107.3,337.5 109.7,339.7 113.2,341.4 116.2,342.6 119.7,345.8 121.4,346.1 123.2,345.3 125.0,346.7 126.7,349.0 129.7,350.8 133.2,352.0 136.7,352.6 139.6,352.0 142.0,350.2 143.7,349.6 145.5,351.6 147.3,352.3 149.6,350.2 152.0,352.0 154.3,352.8 156.7,351.4 159.0,352.6 161.4,353.2 163.5,353.5 167.0,354.9 171.7,355.8 176.4,356.8 181.1,357.6 185.8,358.2 190.5,357.6 194.0,355.6 196.4,356.4 199.9,358.2 204.6,358.8 209.3,358.4 214.0,359.1 216.7,359.7 224.6,359.1 232.4,358.7 240.2,358.7 246.1,357.4 251.0,358.4 254.9,359.1" fill="none" stroke="#202020" stroke-width="1.0" stroke-linejoin="round" stroke-linecap="round" opacity="1.0"/>
<line x1="306.6" y1="196.0" x2="306.6" y2="371.0" stroke="#555" stroke-width="0.8"/>
<line x1="305.40000000000003" y1="199.90" x2="306.6" y2="199.90" stroke="#555" stroke-width="0.5"/>
<text transform="translate(304.40 201.10) scale(0.8 1)" text-anchor="end" class="t" style="fill:#5a5a5a;font-weight:bold;font-size:3.5px">5400</text>
<line x1="305.40000000000003" y1="206.27" x2="306.6" y2="206.27" stroke="#555" stroke-width="0.5"/>
<text transform="translate(304.40 207.47) scale(0.8 1)" text-anchor="end" class="t" style="fill:#5a5a5a;font-weight:bold;font-size:3.5px">5200</text>
<line x1="305.40000000000003" y1="212.64" x2="306.6" y2="212.64" stroke="#555" stroke-width="0.5"/>
<text transform="translate(304.40 213.84) scale(0.8 1)" text-anchor="end" class="t" style="fill:#5a5a5a;font-weight:bold;font-size:3.5px">5000</text>
<line x1="305.40000000000003" y1="219.01" x2="306.6" y2="219.01" stroke="#555" stroke-width="0.5"/>
<text transform="translate(304.40 220.21) scale(0.8 1)" text-anchor="end" class="t" style="fill:#5a5a5a;font-weight:bold;font-size:3.5px">4800</text>
<line x1="305.40000000000003" y1="225.38" x2="306.6" y2="225.38" stroke="#555" stroke-width="0.5"/>
<text transform="translate(304.40 226.58) scale(0.8 1)" text-anchor="end" class="t" style="fill:#5a5a5a;font-weight:bold;font-size:3.5px">4600</text>
<line x1="305.40000000000003" y1="231.75" x2="306.6" y2="231.75" stroke="#555" stroke-width="0.5"/>
<text transform="translate(304.40 232.95) scale(0.8 1)" text-anchor="end" class="t" style="fill:#5a5a5a;font-weight:bold;font-size:3.5px">4400</text>
<line x1="305.40000000000003" y1="238.12" x2="306.6" y2="238.12" stroke="#555" stroke-width="0.5"/>
<text transform="translate(304.40 239.32) scale(0.8 1)" text-anchor="end" class="t" style="fill:#5a5a5a;font-weight:bold;font-size:3.5px">4200</text>
<line x1="305.40000000000003" y1="244.49" x2="306.6" y2="244.49" stroke="#555" stroke-width="0.5"/>
<text transform="translate(304.40 245.69) scale(0.8 1)" text-anchor="end" class="t" style="fill:#5a5a5a;font-weight:bold;font-size:3.5px">4000</text>
<line x1="305.40000000000003" y1="250.86" x2="306.6" y2="250.86" stroke="#555" stroke-width="0.5"/>
<text transform="translate(304.40 252.06) scale(0.8 1)" text-anchor="end" class="t" style="fill:#5a5a5a;font-weight:bold;font-size:3.5px">3800</text>
<line x1="305.40000000000003" y1="257.23" x2="306.6" y2="257.23" stroke="#555" stroke-width="0.5"/>
<text transform="translate(304.40 258.43) scale(0.8 1)" text-anchor="end" class="t" style="fill:#5a5a5a;font-weight:bold;font-size:3.5px">3600</text>
<line x1="305.40000000000003" y1="263.60" x2="306.6" y2="263.60" stroke="#555" stroke-width="0.5"/>
<text transform="translate(304.40 264.80) scale(0.8 1)" text-anchor="end" class="t" style="fill:#5a5a5a;font-weight:bold;font-size:3.5px">3400</text>
<line x1="305.40000000000003" y1="269.97" x2="306.6" y2="269.97" stroke="#555" stroke-width="0.5"/>
<text transform="translate(304.40 271.17) scale(0.8 1)" text-anchor="end" class="t" style="fill:#5a5a5a;font-weight:bold;font-size:3.5px">3200</text>
<line x1="305.40000000000003" y1="276.34" x2="306.6" y2="276.34" stroke="#555" stroke-width="0.5"/>
<text transform="translate(304.40 277.54) scale(0.8 1)" text-anchor="end" class="t" style="fill:#5a5a5a;font-weight:bold;font-size:3.5px">3000</text>
<line x1="305.40000000000003" y1="282.71" x2="306.6" y2="282.71" stroke="#555" stroke-width="0.5"/>
<text transform="translate(304.40 283.91) scale(0.8 1)" text-anchor="end" class="t" style="fill:#5a5a5a;font-weight:bold;font-size:3.5px">2800</text>
<line x1="305.40000000000003" y1="289.08" x2="306.6" y2="289.08" stroke="#555" stroke-width="0.5"/>
<text transform="translate(304.40 290.28) scale(0.8 1)" text-anchor="end" class="t" style="fill:#5a5a5a;font-weight:bold;font-size:3.5px">2600</text>
<line x1="305.40000000000003" y1="295.45" x2="306.6" y2="295.45" stroke="#555" stroke-width="0.5"/>
<text transform="translate(304.40 296.65) scale(0.8 1)" text-anchor="end" class="t" style="fill:#5a5a5a;font-weight:bold;font-size:3.5px">2400</text>
<line x1="305.40000000000003" y1="301.82" x2="306.6" y2="301.82" stroke="#555" stroke-width="0.5"/>
<text transform="translate(304.40 303.02) scale(0.8 1)" text-anchor="end" class="t" style="fill:#5a5a5a;font-weight:bold;font-size:3.5px">2200</text>
<line x1="305.40000000000003" y1="308.19" x2="306.6" y2="308.19" stroke="#555" stroke-width="0.5"/>
<text transform="translate(304.40 309.39) scale(0.8 1)" text-anchor="end" class="t" style="fill:#5a5a5a;font-weight:bold;font-size:3.5px">2000</text>
<line x1="305.40000000000003" y1="314.56" x2="306.6" y2="314.56" stroke="#555" stroke-width="0.5"/>
<text transform="translate(304.40 315.76) scale(0.8 1)" text-anchor="end" class="t" style="fill:#5a5a5a;font-weight:bold;font-size:3.5px">1800</text>
<line x1="305.40000000000003" y1="320.93" x2="306.6" y2="320.93" stroke="#555" stroke-width="0.5"/>
<text transform="translate(304.40 322.13) scale(0.8 1)" text-anchor="end" class="t" style="fill:#5a5a5a;font-weight:bold;font-size:3.5px">1600</text>
<line x1="305.40000000000003" y1="327.30" x2="306.6" y2="327.30" stroke="#555" stroke-width="0.5"/>
<text transform="translate(304.40 328.50) scale(0.8 1)" text-anchor="end" class="t" style="fill:#5a5a5a;font-weight:bold;font-size:3.5px">1400</text>
<line x1="305.40000000000003" y1="333.67" x2="306.6" y2="333.67" stroke="#555" stroke-width="0.5"/>
<text transform="translate(304.40 334.87) scale(0.8 1)" text-anchor="end" class="t" style="fill:#5a5a5a;font-weight:bold;font-size:3.5px">1200</text>
<line x1="305.40000000000003" y1="340.04" x2="306.6" y2="340.04" stroke="#555" stroke-width="0.5"/>
<text transform="translate(304.40 341.24) scale(0.8 1)" text-anchor="end" class="t" style="fill:#5a5a5a;font-weight:bold;font-size:3.5px">1000</text>
<line x1="305.40000000000003" y1="346.41" x2="306.6" y2="346.41" stroke="#555" stroke-width="0.5"/>
<text transform="translate(304.40 347.61) scale(0.8 1)" text-anchor="end" class="t" style="fill:#5a5a5a;font-weight:bold;font-size:3.5px">800</text>
<line x1="305.40000000000003" y1="352.78" x2="306.6" y2="352.78" stroke="#555" stroke-width="0.5"/>
<text transform="translate(304.40 353.98) scale(0.8 1)" text-anchor="end" class="t" style="fill:#5a5a5a;font-weight:bold;font-size:3.5px">600</text>
<line x1="305.40000000000003" y1="359.15" x2="306.6" y2="359.15" stroke="#555" stroke-width="0.5"/>
<text transform="translate(304.40 360.35) scale(0.8 1)" text-anchor="end" class="t" style="fill:#5a5a5a;font-weight:bold;font-size:3.5px">400</text>
<line x1="305.40000000000003" y1="365.52" x2="306.6" y2="365.52" stroke="#555" stroke-width="0.5"/>
<text transform="translate(304.40 366.72) scale(0.8 1)" text-anchor="end" class="t" style="fill:#5a5a5a;font-weight:bold;font-size:3.5px">200</text>
<line x1="308.0" y1="373.0" x2="535.5" y2="373.0" stroke="#9a9a9a" stroke-width="0.8"/>
<line x1="314.82" y1="373.0" x2="314.82" y2="374.2" stroke="#9a9a9a" stroke-width="0.5"/>
<text transform="translate(314.82 378.00) scale(0.8 1)" text-anchor="middle" class="t" style="fill:#5a5a5a;font-weight:bold;font-size:3.5px">9</text>
<line x1="321.94" y1="373.0" x2="321.94" y2="374.2" stroke="#9a9a9a" stroke-width="0.5"/>
<text transform="translate(321.94 378.00) scale(0.8 1)" text-anchor="middle" class="t" style="fill:#5a5a5a;font-weight:bold;font-size:3.5px">10</text>
<line x1="329.06" y1="373.0" x2="329.06" y2="374.2" stroke="#9a9a9a" stroke-width="0.5"/>
<text transform="translate(329.06 378.00) scale(0.8 1)" text-anchor="middle" class="t" style="fill:#5a5a5a;font-weight:bold;font-size:3.5px">11</text>
<line x1="336.18" y1="373.0" x2="336.18" y2="374.2" stroke="#9a9a9a" stroke-width="0.5"/>
<text transform="translate(336.18 378.00) scale(0.8 1)" text-anchor="middle" class="t" style="fill:#5a5a5a;font-weight:bold;font-size:3.5px">12</text>
<line x1="343.30" y1="373.0" x2="343.30" y2="374.2" stroke="#9a9a9a" stroke-width="0.5"/>
<text transform="translate(343.30 378.00) scale(0.8 1)" text-anchor="middle" class="t" style="fill:#5a5a5a;font-weight:bold;font-size:3.5px">13</text>
<line x1="350.42" y1="373.0" x2="350.42" y2="374.2" stroke="#9a9a9a" stroke-width="0.5"/>
<text transform="translate(350.42 378.00) scale(0.8 1)" text-anchor="middle" class="t" style="fill:#5a5a5a;font-weight:bold;font-size:3.5px">14</text>
<line x1="357.54" y1="373.0" x2="357.54" y2="374.2" stroke="#9a9a9a" stroke-width="0.5"/>
<text transform="translate(357.54 378.00) scale(0.8 1)" text-anchor="middle" class="t" style="fill:#5a5a5a;font-weight:bold;font-size:3.5px">15</text>
<line x1="364.66" y1="373.0" x2="364.66" y2="374.2" stroke="#9a9a9a" stroke-width="0.5"/>
<text transform="translate(364.66 378.00) scale(0.8 1)" text-anchor="middle" class="t" style="fill:#5a5a5a;font-weight:bold;font-size:3.5px">16</text>
<line x1="371.78" y1="373.0" x2="371.78" y2="374.2" stroke="#9a9a9a" stroke-width="0.5"/>
<text transform="translate(371.78 378.00) scale(0.8 1)" text-anchor="middle" class="t" style="fill:#5a5a5a;font-weight:bold;font-size:3.5px">17</text>
<line x1="378.90" y1="373.0" x2="378.90" y2="374.2" stroke="#9a9a9a" stroke-width="0.5"/>
<text transform="translate(378.90 378.00) scale(0.8 1)" text-anchor="middle" class="t" style="fill:#5a5a5a;font-weight:bold;font-size:3.5px">18</text>
<line x1="386.02" y1="373.0" x2="386.02" y2="374.2" stroke="#9a9a9a" stroke-width="0.5"/>
<text transform="translate(386.02 378.00) scale(0.8 1)" text-anchor="middle" class="t" style="fill:#5a5a5a;font-weight:bold;font-size:3.5px">19</text>
<line x1="393.14" y1="373.0" x2="393.14" y2="374.2" stroke="#9a9a9a" stroke-width="0.5"/>
<text transform="translate(393.14 378.00) scale(0.8 1)" text-anchor="middle" class="t" style="fill:#5a5a5a;font-weight:bold;font-size:3.5px">20</text>
<line x1="400.26" y1="373.0" x2="400.26" y2="374.2" stroke="#9a9a9a" stroke-width="0.5"/>
<text transform="translate(400.26 378.00) scale(0.8 1)" text-anchor="middle" class="t" style="fill:#5a5a5a;font-weight:bold;font-size:3.5px">21</text>
<line x1="407.38" y1="373.0" x2="407.38" y2="374.2" stroke="#9a9a9a" stroke-width="0.5"/>
<text transform="translate(407.38 378.00) scale(0.8 1)" text-anchor="middle" class="t" style="fill:#5a5a5a;font-weight:bold;font-size:3.5px">22</text>
<line x1="414.50" y1="373.0" x2="414.50" y2="374.2" stroke="#9a9a9a" stroke-width="0.5"/>
<text transform="translate(414.50 378.00) scale(0.8 1)" text-anchor="middle" class="t" style="fill:#5a5a5a;font-weight:bold;font-size:3.5px">23</text>
<line x1="421.62" y1="373.0" x2="421.62" y2="374.2" stroke="#9a9a9a" stroke-width="0.5"/>
<text transform="translate(421.62 378.00) scale(0.8 1)" text-anchor="middle" class="t" style="fill:#5a5a5a;font-weight:bold;font-size:3.5px">24</text>
<line x1="428.74" y1="373.0" x2="428.74" y2="374.2" stroke="#9a9a9a" stroke-width="0.5"/>
<text transform="translate(428.74 378.00) scale(0.8 1)" text-anchor="middle" class="t" style="fill:#5a5a5a;font-weight:bold;font-size:3.5px">25</text>
<line x1="435.86" y1="373.0" x2="435.86" y2="374.2" stroke="#9a9a9a" stroke-width="0.5"/>
<text transform="translate(435.86 378.00) scale(0.8 1)" text-anchor="middle" class="t" style="fill:#5a5a5a;font-weight:bold;font-size:3.5px">26</text>
<line x1="442.98" y1="373.0" x2="442.98" y2="374.2" stroke="#9a9a9a" stroke-width="0.5"/>
<text transform="translate(442.98 378.00) scale(0.8 1)" text-anchor="middle" class="t" style="fill:#5a5a5a;font-weight:bold;font-size:3.5px">27</text>
<line x1="450.10" y1="373.0" x2="450.10" y2="374.2" stroke="#9a9a9a" stroke-width="0.5"/>
<text transform="translate(450.10 378.00) scale(0.8 1)" text-anchor="middle" class="t" style="fill:#5a5a5a;font-weight:bold;font-size:3.5px">28</text>
<line x1="457.22" y1="373.0" x2="457.22" y2="374.2" stroke="#9a9a9a" stroke-width="0.5"/>
<text transform="translate(457.22 378.00) scale(0.8 1)" text-anchor="middle" class="t" style="fill:#5a5a5a;font-weight:bold;font-size:3.5px">29</text>
<line x1="464.34" y1="373.0" x2="464.34" y2="374.2" stroke="#9a9a9a" stroke-width="0.5"/>
<text transform="translate(464.34 378.00) scale(0.8 1)" text-anchor="middle" class="t" style="fill:#5a5a5a;font-weight:bold;font-size:3.5px">30</text>
<line x1="471.46" y1="373.0" x2="471.46" y2="374.2" stroke="#9a9a9a" stroke-width="0.5"/>
<text transform="translate(471.46 378.00) scale(0.8 1)" text-anchor="middle" class="t" style="fill:#5a5a5a;font-weight:bold;font-size:3.5px">31</text>
<line x1="478.58" y1="373.0" x2="478.58" y2="374.2" stroke="#9a9a9a" stroke-width="0.5"/>
<text transform="translate(478.58 378.00) scale(0.8 1)" text-anchor="middle" class="t" style="fill:#5a5a5a;font-weight:bold;font-size:3.5px">32</text>
<line x1="485.70" y1="373.0" x2="485.70" y2="374.2" stroke="#9a9a9a" stroke-width="0.5"/>
<text transform="translate(485.70 378.00) scale(0.8 1)" text-anchor="middle" class="t" style="fill:#5a5a5a;font-weight:bold;font-size:3.5px">33</text>
<line x1="492.82" y1="373.0" x2="492.82" y2="374.2" stroke="#9a9a9a" stroke-width="0.5"/>
<text transform="translate(492.82 378.00) scale(0.8 1)" text-anchor="middle" class="t" style="fill:#5a5a5a;font-weight:bold;font-size:3.5px">34</text>
<line x1="499.94" y1="373.0" x2="499.94" y2="374.2" stroke="#9a9a9a" stroke-width="0.5"/>
<text transform="translate(499.94 378.00) scale(0.8 1)" text-anchor="middle" class="t" style="fill:#5a5a5a;font-weight:bold;font-size:3.5px">35</text>
<line x1="507.06" y1="373.0" x2="507.06" y2="374.2" stroke="#9a9a9a" stroke-width="0.5"/>
<text transform="translate(507.06 378.00) scale(0.8 1)" text-anchor="middle" class="t" style="fill:#5a5a5a;font-weight:bold;font-size:3.5px">36</text>
<line x1="514.18" y1="373.0" x2="514.18" y2="374.2" stroke="#9a9a9a" stroke-width="0.5"/>
<text transform="translate(514.18 378.00) scale(0.8 1)" text-anchor="middle" class="t" style="fill:#5a5a5a;font-weight:bold;font-size:3.5px">37</text>
<line x1="521.30" y1="373.0" x2="521.30" y2="374.2" stroke="#9a9a9a" stroke-width="0.5"/>
<text transform="translate(521.30 378.00) scale(0.8 1)" text-anchor="middle" class="t" style="fill:#5a5a5a;font-weight:bold;font-size:3.5px">38</text>
<line x1="528.42" y1="373.0" x2="528.42" y2="374.2" stroke="#9a9a9a" stroke-width="0.5"/>
<text transform="translate(528.42 378.00) scale(0.8 1)" text-anchor="middle" class="t" style="fill:#5a5a5a;font-weight:bold;font-size:3.5px">39</text>
<text transform="translate(295.8 283.8) rotate(-90) scale(0.9 1)" text-anchor="middle" class="t" style="fill:#444;font-size:3.5px;font-weight:normal">Intensity</text>
<text x="421.5" y="381.5" text-anchor="middle" class="t" style="fill:#666;font-size:3.5px;font-weight:normal">X</text>
<polyline points="307.9,288.1 311.8,286.8 317.1,284.8 323.6,282.5 330.1,279.8 336.6,276.7 340.0,274.5 343.2,273.1 348.4,270.8 350.0,270.0 352.9,268.5 355.9,270.0 361.7,271.4 367.6,272.6 373.5,274.0 379.4,276.1 385.2,278.2 391.1,281.1 397.0,283.5 400.0,284.7 405.9,287.3 411.7,290.0 417.6,292.1 423.5,293.9 429.4,295.3 435.2,296.7 441.1,297.8 447.0,298.8 452.8,299.7 466.0,301.1 477.8,302.9 489.6,304.3 501.4,305.3 513.2,305.8 522.7,305.9 525.0,304.1 527.4,305.9 535.1,306.6" fill="none" stroke="#62b062" stroke-width="1.25" stroke-linejoin="round" stroke-linecap="round" opacity="1.0"/>
<polyline points="307.9,306.3 311.8,304.4 315.1,302.8 317.1,301.5 319.7,302.0 323.6,300.5 327.5,298.5 332.7,295.9 337.3,294.2 341.9,292.0 345.8,290.3 349.0,289.4 350.7,286.5 352.5,280.3 353.6,278.0 354.9,282.6 356.5,288.5 358.2,289.0 361.7,288.8 365.3,290.0 368.8,290.8 373.5,292.3 378.2,293.7 382.9,295.2 385.2,295.5 387.0,294.7 388.2,296.1 391.1,298.2 394.4,299.8 400.0,301.7 405.9,304.7 411.7,307.2 417.6,309.4 423.5,311.1 429.4,312.6 435.2,314.0 441.1,315.2 447.0,316.4 452.8,317.3 462.0,318.6 480.3,321.3 498.6,323.1 516.8,324.0 535.1,325.0" fill="none" stroke="#52529c" stroke-width="1.25" stroke-linejoin="round" stroke-linecap="round" opacity="1.0"/>
<polyline points="307.9,323.3 311.8,321.3 317.1,318.7 323.6,315.7 330.1,312.8 336.6,310.9 343.2,309.6 350.0,308.1 355.2,307.4 360.4,306.5 365.7,306.7 370.9,307.4 376.1,308.7 381.3,310.7 386.6,312.6 391.8,314.6 400.0,317.4 405.9,320.0 411.7,322.3 417.6,324.6 423.5,326.8 429.4,328.5 435.2,330.0 441.1,331.4 447.0,332.7 452.8,333.9 462.0,335.4 470.7,336.3 486.4,338.2 502.0,339.4 517.7,340.5 535.0,341.3" fill="none" stroke="#d46266" stroke-width="1.25" stroke-linejoin="round" stroke-linecap="round" opacity="1.0"/>
<polyline points="307.9,335.7 309.9,337.0 311.8,337.9 313.8,336.3 315.5,331.1 316.4,328.2 317.7,331.1 319.4,337.0 321.6,339.6 323.6,340.0 326.2,339.2 328.8,338.3 331.4,336.3 333.4,335.7 335.3,336.6 336.6,334.4 338.2,325.9 339.5,320.0 341.2,319.4 343.0,315.0 344.2,308.5 345.4,302.2 347.0,298.5 348.1,299.9 349.3,304.2 350.1,301.8 350.7,294.4 351.3,285.0 351.7,260.0 353.3,199.4 355.0,260.0 355.2,285.0 356.0,292.8 356.8,300.7 357.5,303.8 358.7,303.4 359.9,305.0 361.1,305.8 362.2,307.7 363.0,310.8 363.8,315.0 365.7,317.2 368.3,320.5 370.9,323.1 372.8,322.2 374.8,324.0 377.4,327.4 379.4,328.3 382.0,327.9 384.2,327.0 385.5,321.1 386.6,314.6 387.6,313.3 388.5,316.5 389.4,326.3 390.7,333.5 393.1,336.1 395.7,336.5 398.3,338.1 400.0,339.4 403.5,340.5 405.9,342.5 408.2,344.1 411.2,343.5 412.9,345.2 415.3,347.6 418.8,349.4 422.3,350.3 425.8,350.3 428.8,348.8 430.3,347.9 431.7,349.9 434.0,349.4 435.8,348.4 438.2,350.3 440.5,350.8 442.9,349.6 445.2,350.8 448.1,351.7 451.7,353.1 454.6,354.3 458.1,353.5 462.8,354.8 467.5,355.9 472.3,355.4 476.2,354.8 478.5,353.5 480.9,354.3 484.0,356.3 489.5,356.3 495.8,357.0 502.0,357.8 508.3,357.4 514.6,357.4 519.3,357.0 524.0,355.9 527.1,355.4 530.3,355.9 534.2,357.4" fill="none" stroke="#303030" stroke-width="0.95" stroke-linejoin="round" stroke-linecap="round" opacity="1.0"/>
<text x="469.6" y="104.6" class="s" font-size="9.4" style="stroke-width:0.22px" textLength="58.3" lengthAdjust="spacingAndGlyphs">MQ-BA/Soluplus</text>
<text x="532.3" y="104.6" class="s" font-size="9.4" style="stroke-width:0.22px" textLength="11.2" lengthAdjust="spacingAndGlyphs">1:2</text>
<text x="469.6" y="121.5" class="s" font-size="9.4" style="stroke-width:0.22px" textLength="56.8" lengthAdjust="spacingAndGlyphs">PM-BA/Soluplus</text>
<text x="469.6" y="138.8" class="s" font-size="9.4" style="stroke-width:0.22px" textLength="28.0" lengthAdjust="spacingAndGlyphs">Soluplus</text>
<text x="470.0" y="157.9" class="s" font-size="9.4" style="stroke-width:0.22px" textLength="10.3" lengthAdjust="spacingAndGlyphs">BA</text>
<text x="165.1" y="301.1" class="s" font-size="9.9" style="stroke-width:0.15px" textLength="78.6" lengthAdjust="spacingAndGlyphs">MQ-BA/HPMCAS HF 1:4</text>
<text x="165.1" y="319.4" class="s" font-size="9.9" style="stroke-width:0.15px" textLength="66.2" lengthAdjust="spacingAndGlyphs">PM-BA/HPMCAS HF</text>
<text x="165.1" y="336.5" class="s" font-size="9.9" style="stroke-width:0.15px" textLength="42.1" lengthAdjust="spacingAndGlyphs">HPMCAS HF</text>
<text x="165.1" y="354.6" class="s" font-size="9.9" style="stroke-width:0.15px" textLength="9.9" lengthAdjust="spacingAndGlyphs">BA</text>
<text x="468.9" y="295.0" class="s" font-size="10.2" style="stroke-width:0.12px" textLength="43.0" lengthAdjust="spacingAndGlyphs">MQ-BA/VA64</text>
<text x="516.2" y="295.0" class="s" font-size="10.2" style="stroke-width:0.12px" textLength="8.2" lengthAdjust="spacingAndGlyphs">1:4</text>
<text x="468.9" y="312.9" class="s" font-size="10.2" style="stroke-width:0.12px" textLength="42.8" lengthAdjust="spacingAndGlyphs">PM-BA/VA64</text>
<text x="468.9" y="331.8" class="s" font-size="10.2" style="stroke-width:0.12px" textLength="43.6" lengthAdjust="spacingAndGlyphs">Kollidon VA64</text>
<text x="468.9" y="350.2" class="s" font-size="10.2" style="stroke-width:0.12px" textLength="10.5" lengthAdjust="spacingAndGlyphs">BA</text>
</svg>
</body></html>
